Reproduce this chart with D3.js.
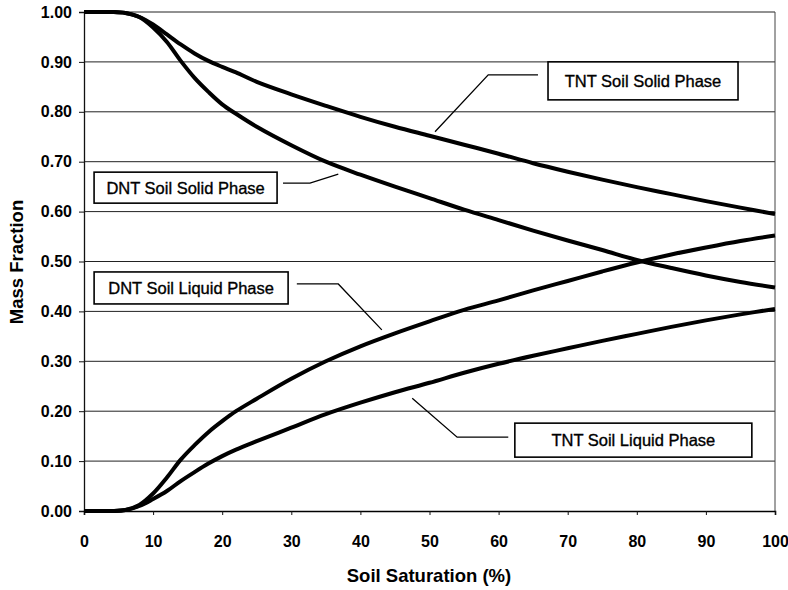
<!DOCTYPE html>
<html>
<head>
<meta charset="utf-8">
<script src="https://cdn.jsdelivr.net/npm/d3@7"></script>
<style>
  body { margin: 0; background: white; }
</style>
</head>
<body>
<div id="chart"></div>
<script>
// soil saturation (%) values the curves were read at
let saturation = [0, 2, 4, 6, 8, 10, 12, 14, 16, 18, 20, 22, 25, 30, 35, 40, 45, 50, 55, 60, 65, 70, 75, 80, 85, 90, 95, 100];
// mass fraction for each series
let tntSolid  = [1, 1, 1, 0.998, 0.99, 0.975, 0.955, 0.935, 0.917, 0.902, 0.89, 0.879, 0.86, 0.835, 0.812, 0.79, 0.77, 0.752, 0.734, 0.716, 0.697, 0.68, 0.664, 0.649, 0.635, 0.621, 0.608, 0.595];
let dntSolid  = [1, 1, 1, 0.998, 0.99, 0.969, 0.94, 0.902, 0.868, 0.84, 0.815, 0.796, 0.77, 0.733, 0.70, 0.674, 0.65, 0.627, 0.604, 0.583, 0.562, 0.542, 0.523, 0.503, 0.487, 0.472, 0.459, 0.448];
let dntLiquid = [0, 0, 0, 0.002, 0.012, 0.035, 0.067, 0.103, 0.132, 0.158, 0.18, 0.20, 0.225, 0.265, 0.30, 0.33, 0.356, 0.38, 0.403, 0.422, 0.442, 0.461, 0.48, 0.498, 0.514, 0.528, 0.541, 0.552];
let tntLiquid = [0, 0, 0, 0.002, 0.01, 0.024, 0.04, 0.06, 0.078, 0.095, 0.11, 0.123, 0.14, 0.167, 0.194, 0.217, 0.238, 0.257, 0.277, 0.295, 0.311, 0.326, 0.341, 0.355, 0.369, 0.382, 0.394, 0.405];

let seriesNames = ["TNT Soil Solid Phase", "DNT Soil Solid Phase", "DNT Soil Liquid Phase", "TNT Soil Liquid Phase"];
let xTicks = [0, 10, 20, 30, 40, 50, 60, 70, 80, 90, 100];
let yTicks = [0, 0.1, 0.2, 0.3, 0.4, 0.5, 0.6, 0.7, 0.8, 0.9, 1.0];

let w = 788;
let h = 590;

//create a svg
let viz = d3.select("#chart")
  .append("svg")
    .attr("width", w)
    .attr("height", h)
    .style("background-color", "white")
;

let x = d3.scaleLinear().domain([0, 100]).range([84, 775]);
let y = d3.scaleLinear().domain([0, 1]).range([511, 12]);

//gridlines
viz.selectAll(".grid")
  .data(yTicks.slice(1))
  .enter()
  .append("line")
    .attr("x1", x(0))
    .attr("x2", x(100))
    .attr("y1", d => y(d))
    .attr("y2", d => y(d))
    .attr("stroke", "#222")
    .attr("stroke-width", 1)
;
//right border
viz.append("line")
  .attr("x1", x(100)).attr("x2", x(100))
  .attr("y1", y(1)).attr("y2", y(0))
  .attr("stroke", "#444")
  .attr("stroke-width", 1)
;

//axes
let yAxis = d3.axisLeft(y)
  .tickValues(yTicks)
  .tickFormat(d3.format(".2f"))
  .tickSize(5)
  .tickPadding(7);
let yG = viz.append("g")
  .attr("transform", "translate(" + x(0) + ",0)")
  .call(yAxis);

let xAxis = d3.axisBottom(x)
  .tickValues(xTicks)
  .tickSize(4)
  .tickPadding(20.5);
let xG = viz.append("g")
  .attr("transform", "translate(0," + y(0) + ")")
  .call(xAxis);

yG.select(".domain").attr("stroke", "#111").attr("stroke-width", 1.3);
xG.select(".domain").attr("stroke", "#000").attr("stroke-width", 1.6);
viz.selectAll(".tick line").attr("stroke", "#111");
viz.selectAll(".tick text")
  .attr("font-family", "Liberation Sans, Arial, sans-serif")
  .attr("font-weight", "bold")
  .attr("font-size", 16)
  .attr("fill", "#000");

//axis titles
viz.append("text")
  .text("Soil Saturation (%)")
  .attr("x", 429)
  .attr("y", 582)
  .attr("text-anchor", "middle")
  .attr("font-family", "Liberation Sans, Arial, sans-serif")
  .attr("font-weight", "bold")
  .attr("font-size", 18.5)
;
viz.append("text")
  .text("Mass Fraction")
  .attr("transform", "translate(23,262) rotate(-90)")
  .attr("text-anchor", "middle")
  .attr("font-family", "Liberation Sans, Arial, sans-serif")
  .attr("font-weight", "bold")
  .attr("font-size", 18.5)
;

//curves
let allSeries = [tntSolid, dntSolid, dntLiquid, tntLiquid];
let line = d3.line()
  .x((d, i) => x(saturation[i]))
  .y(d => y(d))
  .curve(d3.curveCatmullRom.alpha(0.5));

viz.selectAll(".curve")
  .data(allSeries)
  .enter()
  .append("path")
    .attr("d", line)
    .attr("fill", "none")
    .attr("stroke", "#000")
    .attr("stroke-width", 4)
    .attr("stroke-linejoin", "round")
;

//callout boxes: box centre and leader line in data units, box size in px
let callouts = [
  {cx: 80.9, cy: 0.862, bw: 190, bh: 38, leader: [[65.7, 0.874], [58.5, 0.874], [50.8, 0.760]]},
  {cx: 14.7, cy: 0.648, bw: 183, bh: 31, leader: [[28.8, 0.657], [32.7, 0.657], [36.8, 0.675]]},
  {cx: 15.5, cy: 0.447, bw: 194, bh: 32, leader: [[30.8, 0.455], [36.8, 0.455], [43.1, 0.363]]},
  {cx: 79.5, cy: 0.142, bw: 237, bh: 34, leader: [[61.4, 0.148], [54.0, 0.148], [47.5, 0.226]]}
];

let leaderLine = d3.line()
  .x(d => x(d[0]))
  .y(d => y(d[1]));

callouts.forEach(function(c, i){
  viz.append("path")
    .attr("d", leaderLine(c.leader))
    .attr("fill", "none")
    .attr("stroke", "#000")
    .attr("stroke-width", 1.3);
  viz.append("rect")
    .attr("x", x(c.cx) - c.bw/2)
    .attr("y", y(c.cy) - c.bh/2)
    .attr("width", c.bw)
    .attr("height", c.bh)
    .attr("fill", "white")
    .attr("stroke", "#000")
    .attr("stroke-width", 1.6);
  viz.append("text")
    .text(seriesNames[i])
    .attr("x", x(c.cx))
    .attr("y", y(c.cy) + 6)
    .attr("text-anchor", "middle")
    .attr("font-family", "Liberation Sans, Arial, sans-serif")
    .attr("font-size", 16.5)
    .attr("stroke", "#000")
    .attr("stroke-width", 0.35)
    .attr("fill", "#000");
});
</script>
</body>
</html>
